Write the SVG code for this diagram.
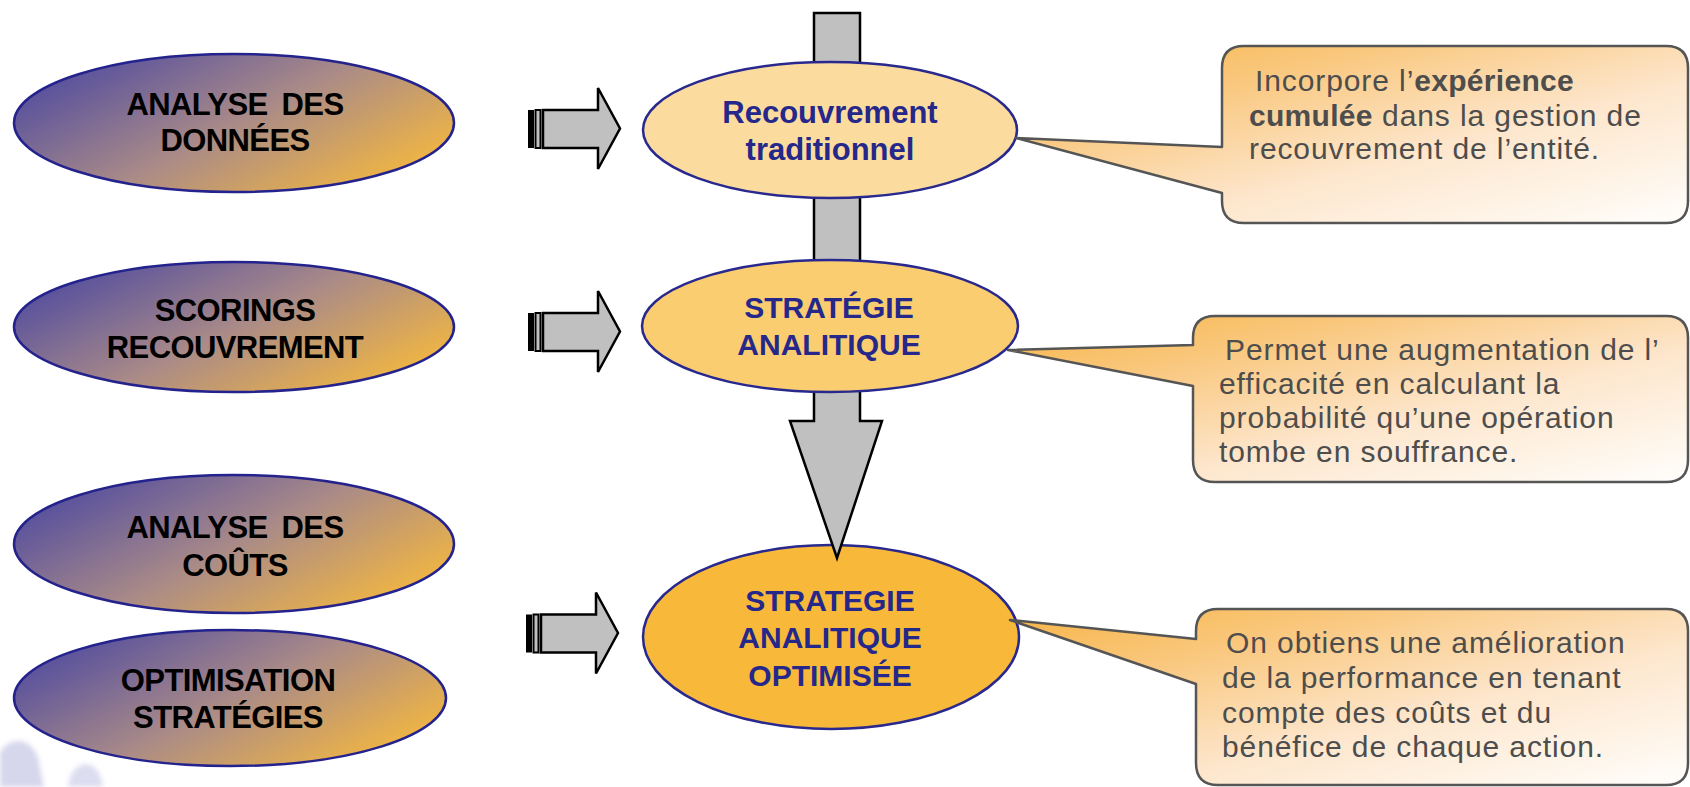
<svg xmlns="http://www.w3.org/2000/svg" width="1690" height="787" viewBox="0 0 1690 787">
  <defs>
    <linearGradient id="gradInput" x1="0" y1="0.2" x2="1" y2="0.8">
      <stop offset="0" stop-color="#4e4aa0"/>
      <stop offset="0.5" stop-color="#a98a88"/>
      <stop offset="1" stop-color="#f8ba3c"/>
    </linearGradient>
    <linearGradient id="gradCallout" x1="0" y1="0" x2="1" y2="1">
      <stop offset="0" stop-color="#f7b445"/>
      <stop offset="0.25" stop-color="#f9c67a"/>
      <stop offset="0.6" stop-color="#fde6cc"/>
      <stop offset="1" stop-color="#fffefc"/>
    </linearGradient>
    <filter id="soft" x="-20%" y="-20%" width="140%" height="140%">
      <feGaussianBlur stdDeviation="2.5"/>
    </filter>
    <!-- striped block arrow, pointing right -->
    <g id="stripedArrow">
      <rect x="528" y="110" width="6" height="38" fill="#000"/>
      <rect x="535.5" y="110" width="5" height="38" fill="#c0c0c0" stroke="#000" stroke-width="2"/>
      <path d="M543,110 H598 V88 L620,128.5 L598,169 V148 H543 Z" class="arrow"/>
    </g>
  </defs>
  <style>
    .input { fill: url(#gradInput); stroke: #24228c; stroke-width: 2.5; }
    .input-text { font-family: "Liberation Sans", Arial, sans-serif; font-weight: bold; font-size: 31px; fill: #000; text-anchor: middle; letter-spacing: -0.6px; word-spacing: 6px; }
    .stage { stroke: #28288e; stroke-width: 2.5; }
    .stage-text { font-family: "Liberation Sans", Arial, sans-serif; font-weight: bold; font-size: 30px; fill: #25288a; text-anchor: middle; }
    .arrow { fill: #c0c0c0; stroke: #000; stroke-width: 2.5; stroke-linejoin: miter; }
    .callout { fill: url(#gradCallout); stroke: #555; stroke-width: 2.5; stroke-linejoin: round; }
    .callout-text { font-family: "Liberation Sans", Arial, sans-serif; font-size: 30px; fill: #4d4d4d; letter-spacing: 0.9px; }
    .callout-text .b { font-weight: bold; letter-spacing: 0.3px; }
  </style>

  <rect width="1690" height="787" fill="#fff"/>

  <!-- faint figures in the lower-left corner -->
  <g id="watermark" filter="url(#soft)" opacity="0.75">
    <path d="M0,752 Q10,738 24,742 Q38,748 40,768 L44,787 H0 Z" fill="#c9c9e6"/>
    <path d="M68,787 Q70,768 84,764 Q100,764 103,787 Z" fill="#d2d2ec"/>
  </g>

  <!-- left column: inputs -->
  <g id="input-analyse-donnees">
    <ellipse cx="234" cy="123" rx="220" ry="69" class="input"/>
    <text class="input-text" x="235" y="115">ANALYSE DES</text>
    <text class="input-text" x="235" y="151">DONNÉES</text>
  </g>
  <g id="input-scorings">
    <ellipse cx="234" cy="327" rx="220" ry="65" class="input"/>
    <text class="input-text" x="235" y="321">SCORINGS</text>
    <text class="input-text" x="235" y="358">RECOUVREMENT</text>
  </g>
  <g id="input-analyse-couts">
    <ellipse cx="234" cy="544" rx="220" ry="69" class="input"/>
    <text class="input-text" x="235" y="538">ANALYSE DES</text>
    <text class="input-text" x="235" y="576">COÛTS</text>
  </g>
  <g id="input-optimisation">
    <ellipse cx="230" cy="698" rx="216" ry="68" class="input"/>
    <text class="input-text" x="228" y="691">OPTIMISATION</text>
    <text class="input-text" x="228" y="728">STRATÉGIES</text>
  </g>

  <!-- centre column: stages -->
  <g id="stage-optimisee">
    <ellipse cx="831" cy="637" rx="188" ry="92" class="stage" fill="#f8b93b"/>
    <text class="stage-text" x="830" y="611">STRATEGIE</text>
    <text class="stage-text" x="830" y="648">ANALITIQUE</text>
    <text class="stage-text" x="830" y="686">OPTIMISÉE</text>
  </g>

  <g id="connectors">
    <!-- main vertical flow arrow -->
    <path d="M814,13 H860 V421 H882 L837,558 L790,421 H814 Z" class="arrow"/>
  </g>

  <g id="stage-traditionnel">
    <ellipse cx="830" cy="130" rx="187" ry="68" class="stage" fill="#fbdc9e"/>
    <text class="stage-text" x="830" y="123" style="font-size:31px">Recouvrement</text>
    <text class="stage-text" x="830" y="160" style="font-size:31px">traditionnel</text>
  </g>
  <g id="stage-analitique">
    <ellipse cx="830" cy="326" rx="188" ry="66" class="stage" fill="#f9cd70"/>
    <text class="stage-text" x="829" y="318">STRATÉGIE</text>
    <text class="stage-text" x="829" y="355">ANALITIQUE</text>
  </g>

  <g id="input-arrows">
    <use href="#stripedArrow"/>
    <use href="#stripedArrow" transform="translate(0,203)"/>
    <use href="#stripedArrow" transform="translate(-2,504.5)"/>
  </g>

  <!-- callouts -->
  <g id="callout-experience">
    <path class="callout" d="M1244,46 H1666 Q1688,46 1688,68 V201 Q1688,223 1666,223 H1244 Q1222,223 1222,201 V193 L1016,138 L1222,147 V68 Q1222,46 1244,46 Z"/>
    <text class="callout-text" x="1255" y="91">Incorpore l’<tspan class="b">expérience</tspan></text>
    <text class="callout-text" x="1249" y="126"><tspan class="b">cumulée</tspan> dans la  gestion de</text>
    <text class="callout-text" x="1249" y="159">recouvrement de l’entité.</text>
  </g>
  <g id="callout-efficacite">
    <path class="callout" d="M1215,316 H1666 Q1688,316 1688,338 V460 Q1688,482 1666,482 H1215 Q1193,482 1193,460 V386 L1008,350 L1193,345 V338 Q1193,316 1215,316 Z"/>
    <text class="callout-text" x="1225" y="360">Permet une augmentation de l’</text>
    <text class="callout-text" x="1219" y="394">efficacité en calculant la</text>
    <text class="callout-text" x="1219" y="428">probabilité qu’une opération</text>
    <text class="callout-text" x="1219" y="462">tombe en souffrance.</text>
  </g>
  <g id="callout-performance">
    <path class="callout" d="M1218,609 H1666 Q1688,609 1688,631 V763 Q1688,785 1666,785 H1218 Q1196,785 1196,763 V684 L1010,620 L1196,639 V631 Q1196,609 1218,609 Z"/>
    <text class="callout-text" x="1226" y="653">On obtiens une amélioration</text>
    <text class="callout-text" x="1222" y="688">de la performance en tenant</text>
    <text class="callout-text" x="1222" y="723">compte des coûts et du</text>
    <text class="callout-text" x="1222" y="757">bénéfice de chaque action.</text>
  </g>
</svg>
